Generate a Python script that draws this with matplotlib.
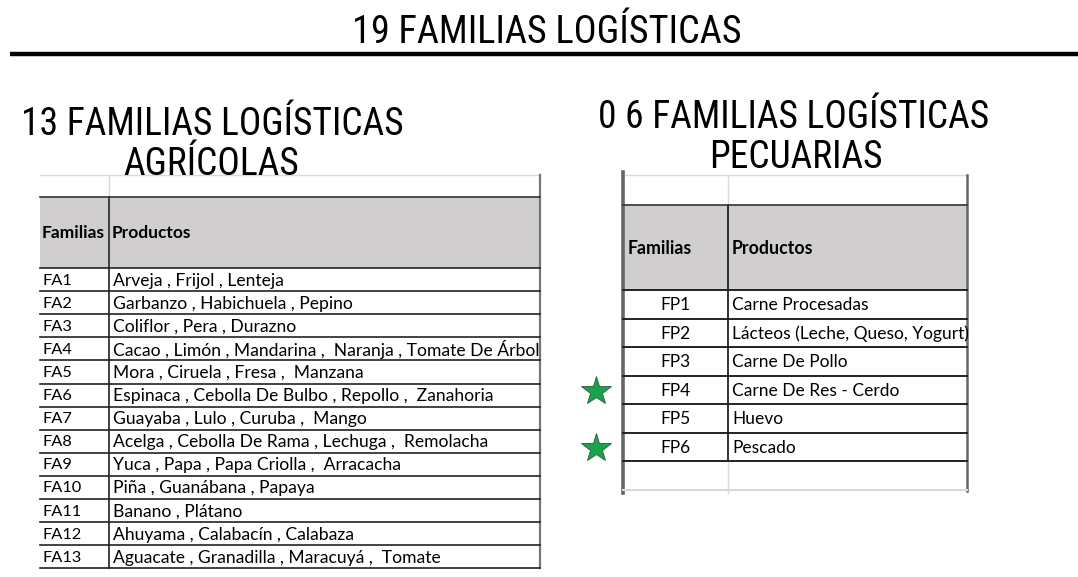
import matplotlib.pyplot as plt
from matplotlib.patches import Rectangle

# data
agri_codes = ['FA1', 'FA2', 'FA3', 'FA4', 'FA5', 'FA6', 'FA7', 'FA8', 'FA9',
              'FA10', 'FA11', 'FA12', 'FA13']
agri_products = [
    'Arveja , Frijol , Lenteja',
    'Garbanzo , Habichuela , Pepino',
    'Coliflor , Pera , Durazno',
    'Cacao , Limón , Mandarina ,  Naranja , Tomate De Árbol',
    'Mora , Ciruela , Fresa ,  Manzana',
    'Espinaca , Cebolla De Bulbo , Repollo ,  Zanahoria',
    'Guayaba , Lulo , Curuba ,  Mango',
    'Acelga , Cebolla De Rama , Lechuga ,  Remolacha',
    'Yuca , Papa , Papa Criolla ,  Arracacha',
    'Piña , Guanábana , Papaya',
    'Banano , Plátano',
    'Ahuyama , Calabacín , Calabaza',
    'Aguacate , Granadilla , Maracuyá ,  Tomate',
]
pec_codes = ['FP1', 'FP2', 'FP3', 'FP4', 'FP5', 'FP6']
pec_products = ['Carne Procesadas', 'Lácteos (Leche, Queso, Yogurt)',
                'Carne De Pollo', 'Carne De Res - Cerdo', 'Huevo', 'Pescado']
pec_starred = ['FP4', 'FP6']

title = '19 FAMILIAS LOGÍSTICAS'
left_title = ['13 FAMILIAS LOGÍSTICAS', 'AGRÍCOLAS']
right_title = ['0 6 FAMILIAS LOGÍSTICAS', 'PECUARIAS']

head_font = ['Liberation Sans Narrow', 'Roboto Condensed', 'Roboto', 'DejaVu Sans']
cell_font = ['Lato', 'DejaVu Sans']
gray_head = '#d0cece'
grid_light = '#d9d9d9'

fig = plt.figure(figsize=(10.78, 5.77), dpi=100)
ax = fig.add_axes([0, 0, 1, 1])
ax.set_xlim(0, 1078)
ax.set_ylim(577, 0)
ax.axis('off')

# main title + rule
ax.text(547, 43, title, ha='center', va='baseline', fontsize=27.5, family=head_font)
ax.plot([10, 1078], [54, 54], color='black', lw=3.2, solid_capstyle='butt')

# sub titles
ax.text(212, 135, left_title[0], ha='center', va='baseline', fontsize=27, family=head_font)
ax.text(211, 175, left_title[1], ha='center', va='baseline', fontsize=27, family=head_font)
ax.text(794, 128, right_title[0], ha='center', va='baseline', fontsize=27, family=head_font)
ax.text(796, 168, right_title[1], ha='center', va='baseline', fontsize=27, family=head_font)

# ---- left table (agricolas)
lx0, lx1, lx2 = 40, 109, 540
ltop, lhead0, lhead1 = 175, 197, 268
lrow = 23.1
n = len(agri_codes)
lbottom = lhead1 + n * lrow

ax.add_patch(Rectangle((lx0, lhead0), lx2 - lx0, lhead1 - lhead0,
                       facecolor=gray_head, edgecolor='none'))
ax.plot([lx0, lx2], [ltop, ltop], color=grid_light, lw=1)
ax.plot([lx1, lx1], [ltop, lhead0], color=grid_light, lw=1)
ax.plot([lx1, lx1], [lhead0, lbottom], color='#333333', lw=1.3)
ax.plot([lx2, lx2], [ltop, lbottom], color='#777777', lw=1.6)
ax.plot([lx0, lx2], [lhead0, lhead0], color='#333333', lw=1.2)
ax.text(lx0 + 2, 233, 'Familias', fontsize=12.5, fontweight='bold',
        va='center', family=cell_font)
ax.text(lx1 + 3, 233, 'Productos', fontsize=12.5, fontweight='bold',
        va='center', family=cell_font)

clip_left = Rectangle((lx0, ltop), lx2 - lx0 - 1, lbottom - ltop, transform=ax.transData)
for i, (code, prod) in enumerate(zip(agri_codes, agri_products)):
    y0 = lhead1 + i * lrow
    ax.plot([lx0, lx2], [y0, y0], color='#222222', lw=1.2)
    ax.text(lx0 + 2, y0 + lrow / 2 + 1, code, fontsize=11.8, va='center',
            family=cell_font)
    t = ax.text(lx1 + 4, y0 + lrow / 2 + 1, prod, fontsize=12.6, va='center',
                family=cell_font)
    t.set_clip_path(clip_left)
ax.plot([lx0, lx2], [lbottom, lbottom], color='#222222', lw=1.2)

# ---- right table (pecuarias)
rx0, rx1, rx2 = 623, 728, 967
rtop, rhead0, rhead1 = 175, 205, 290
rrow = 28.5
m = len(pec_codes)
rbottom = rhead1 + m * rrow

ax.add_patch(Rectangle((rx0, rhead0), rx2 - rx0, rhead1 - rhead0,
                       facecolor=gray_head, edgecolor='none'))
ax.plot([rx0, rx2], [rtop, rtop], color=grid_light, lw=1)
ax.plot([rx1, rx1], [rtop, rhead0], color=grid_light, lw=1)
ax.plot([rx1, rx1], [rhead0, rbottom], color='#111111', lw=1.2)
ax.plot([rx1, rx1], [rbottom, rbottom + 32], color=grid_light, lw=1)
ax.plot([rx0, rx0], [172, rbottom + 32], color='#666666', lw=2.6)
ax.plot([rx2, rx2], [rtop, rbottom + 30], color='#666666', lw=1.8)
ax.plot([rx0, rx2], [rhead0, rhead0], color='#333333', lw=1.2)
ax.plot([rx0, rx2], [rbottom + 29, rbottom + 29], color=grid_light, lw=1.5)
ax.text(rx0 + 5, 249, 'Familias', fontsize=12.8, fontweight='bold',
        va='center', family=cell_font)
ax.text(rx1 + 4, 249, 'Productos', fontsize=12.8, fontweight='bold',
        va='center', family=cell_font)

for i, (code, prod) in enumerate(zip(pec_codes, pec_products)):
    y0 = rhead1 + i * rrow
    ax.plot([rx0, rx2], [y0, y0], color='#222222', lw=1.4)
    ax.text((rx0 + rx1) / 2, y0 + rrow / 2 + 1, code, fontsize=12.5,
            ha='center', va='center', family=cell_font)
    ax.text(rx1 + 4, y0 + rrow / 2 + 1, prod, fontsize=12.5, va='center',
            family=cell_font)
    if code in pec_starred:
        ax.plot(596, y0 + rrow / 2 + 1, marker='*', markersize=22,
                color='#1aa34a', markeredgecolor='#2d5a3a', markeredgewidth=0.6)
ax.plot([rx0, rx2], [rbottom, rbottom], color='#222222', lw=1.4)

fig.savefig('out.png', dpi=100)
